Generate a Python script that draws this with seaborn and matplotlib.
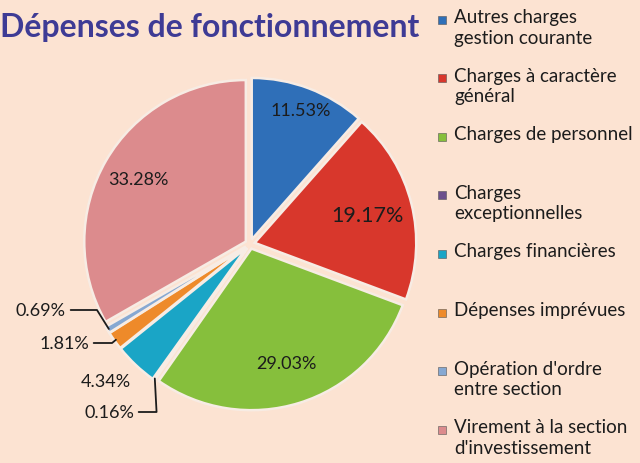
import matplotlib
matplotlib.use("Agg")
import matplotlib.pyplot as plt
from matplotlib.patches import Rectangle
import numpy as np
import seaborn as sns

# Données du graphique
categories = [
    "Autres charges\ngestion courante",
    "Charges à caractère\ngénéral",
    "Charges de personnel",
    "Charges\nexceptionnelles",
    "Charges financières",
    "Dépenses imprévues",
    "Opération d'ordre\nentre section",
    "Virement à la section\nd'investissement",
]
valeurs = [11.53, 19.17, 29.03, 0.16, 4.34, 1.81, 0.69, 33.28]
couleurs = ["#2f6fb8", "#d8372c", "#86bf3c", "#6b4f8c",
            "#1aa5c6", "#ee8a2a", "#86a8d2", "#dc8b8d"]
fond = "#fce3d2"

sns.set_theme(style="white")
plt.rcParams["font.family"] = ["Lato", "DejaVu Sans"]

fig = plt.figure(figsize=(6.4, 4.64), dpi=100)
fig.patch.set_facecolor(fond)

# axe du camembert (centre ~ (250, 245) px, rayon ~168 px)
ax = fig.add_axes([82 / 640, 51 / 464, 336 / 640, 336 / 464])
ax.set_facecolor(fond)

wedges, _ = ax.pie(
    valeurs, colors=couleurs, startangle=90, counterclock=False,
    explode=[0.03] * len(valeurs), radius=1.0,
    wedgeprops=dict(edgecolor="#f7ece4", linewidth=1.8),
)
ax.set_xlim(-1.04, 1.04)
ax.set_ylim(-1.04, 1.04)
ax.set_aspect("equal")
ax.axis("off")


def point_tranche(w, dist):
    ang = np.deg2rad((w.theta1 + w.theta2) / 2)
    cx, cy = w.center
    return cx + dist * w.r * np.cos(ang), cy + dist * w.r * np.sin(ang)


# étiquettes internes
internes = {0: (0.86, 13), 1: (0.72, 15.5), 2: (0.74, 13), 7: (0.77, 13)}
for i, (dist, taille) in internes.items():
    x, y = point_tranche(wedges[i], dist)
    ax.text(x, y, f"{valeurs[i]:.2f}%", ha="center", va="center",
            fontsize=taille, color="#1c1c1c")

# étiquettes externes avec lignes de rappel
externes = {
    6: ((66 / 640, 1 - 311 / 464), 122),
    5: ((89 / 640, 1 - 344 / 464), 40),
    3: ((134 / 640, 1 - 413 / 464), 93),
}
for i, (pos, angB) in externes.items():
    xy = point_tranche(wedges[i], 0.99)
    ax.annotate(f"{valeurs[i]:.2f}%", xy=xy, xytext=pos,
                textcoords="figure fraction", ha="right", va="center",
                fontsize=13, color="#1c1c1c",
                arrowprops=dict(arrowstyle="-", color="#1c1c1c", lw=1.3,
                                shrinkA=1, shrinkB=0,
                                connectionstyle=f"angle,angleA=0,angleB={angB},rad=0"))
fig.text(106 / 640, 1 - 382 / 464, f"{valeurs[4]:.2f}%", ha="center",
         va="center", fontsize=13, color="#1c1c1c")

# titre
fig.text(0.0, 1 - 27 / 464, "Dépenses de fonctionnement", ha="left",
         va="center", fontsize=23, fontweight="bold", color="#3e3b95")

# légende manuelle
for k, (lab, col) in enumerate(zip(categories, couleurs)):
    y = 1 - (20 + k * 58.6) / 464
    fig.add_artist(Rectangle((438 / 640, y - 4.5 / 464), 8 / 640, 8 / 464,
                             transform=fig.transFigure, facecolor=col,
                             edgecolor="#555555", linewidth=0.4))
    fig.text(454 / 640, y + 11 / 464, lab, ha="left", va="top",
             fontsize=13.5, color="#1c1c1c", linespacing=1.25)

fig.savefig("out.png", dpi=100, facecolor=fond)
